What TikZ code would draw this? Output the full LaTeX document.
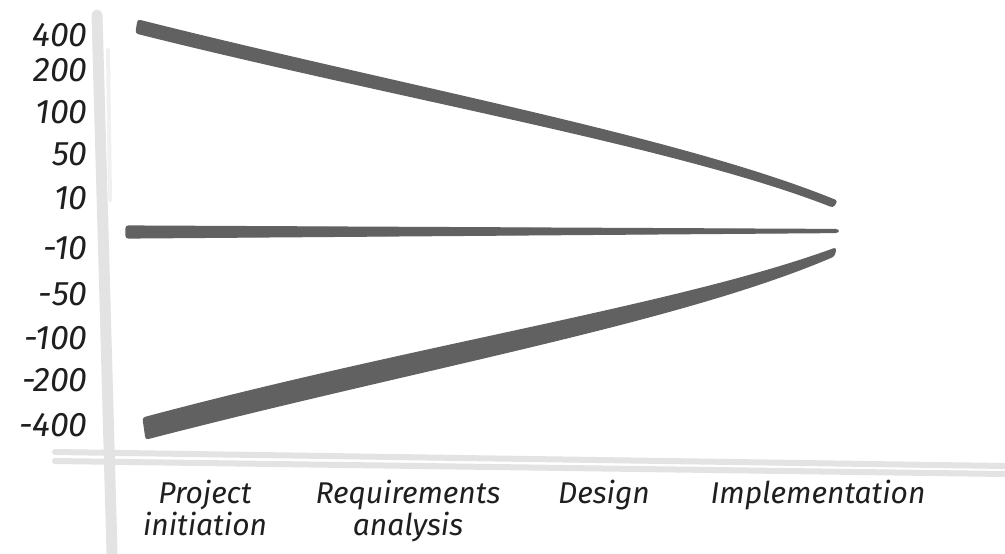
\documentclass[tikz,border=0pt]{standalone}
\usepackage{fontspec}
\setmainfont{Fira Sans}
\begin{document}
\begin{tikzpicture}[x=0.5pt,y=-0.5pt,
  axisline/.style={draw=black!11,line width=5.5pt,line cap=round},
  faintline/.style={draw=black!6,line width=2pt,line cap=round},
  wedge/.style={fill=black!62,draw=black!62,line width=0.6pt,line join=round,rounded corners=1.2pt},
  ylab/.style={anchor=east,font=\itshape\fontsize{17}{17}\selectfont,text=black!88,inner sep=0pt},
  xlab/.style={anchor=north,align=center,font=\itshape\fontsize{15}{13}\selectfont,text=black!88,inner sep=0pt}]
\useasboundingbox[fill=white] (0,0) rectangle (1005,553);

% sketched axes
\draw[axisline] (97,15) -- (112,553);
\draw[faintline] (108,50) -- (110,200);
\draw[axisline,line width=3pt] (55,452) -- (1005,466);
\draw[axisline,line width=3pt] (55,461) -- (1005,474);

% upper bound of the estimate
\fill[wedge] (138,20) .. controls (400,86) and (680,137) .. (837,201)
  -- (833,207) .. controls (680,147) and (400,99) .. (136,33) -- cycle;
% actual value
\fill[wedge] (126,226) -- (838,229.5) -- (838,232.5) -- (126,238) -- cycle;
% lower bound of the estimate
\fill[wedge] (143,418) .. controls (420,344) and (680,305) .. (836,248)
  -- (834,256) .. controls (680,322) and (420,368) .. (146,439) -- cycle;

% vertical scale
\node[ylab] (y400)  at (88,35)  {400};
\node[ylab] (y200)  at (88,70)  {200};
\node[ylab] (y100)  at (88,112) {100};
\node[ylab] (y50)   at (88,154) {50};
\node[ylab] (y10)   at (88,198) {10};
\node[ylab] (ym10)  at (88,248) {-10};
\node[ylab] (ym50)  at (88,294) {-50};
\node[ylab] (ym100) at (88,338) {-100};
\node[ylab] (ym200) at (88,380) {-200};
\node[ylab] (ym400) at (88,425) {-400};

% phases
\node[xlab] (p1) at (205,480) {Project\\initiation};
\node[xlab] (p2) at (408,480) {Requirements\\analysis};
\node[xlab] (p3) at (604,480) {Design};
\node[xlab] (p4) at (818,480) {Implementation};
\end{tikzpicture}
\end{document}
